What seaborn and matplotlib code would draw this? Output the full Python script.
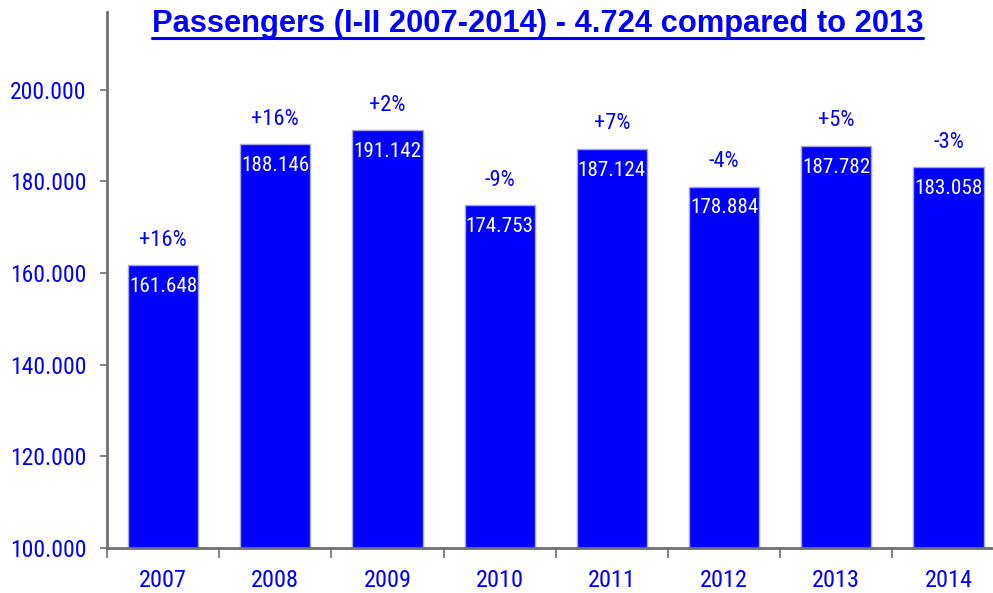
import matplotlib
matplotlib.use("Agg")
import matplotlib.pyplot as plt
from matplotlib import font_manager
from matplotlib.font_manager import FontProperties
from matplotlib.lines import Line2D
from matplotlib.ticker import FixedLocator, FuncFormatter
import seaborn as sns
import pandas as pd

# Passenger totals, Jan-Feb of each year
years = ["2007", "2008", "2009", "2010", "2011", "2012", "2013", "2014"]
passengers = [161648, 188146, 191142, 174753, 187124, 178884, 187782, 183058]
changes = ["+16%", "+16%", "+2%", "-9%", "+7%", "-4%", "+5%", "-3%"]
y_ticks = [100000, 120000, 140000, 160000, 180000, 200000]
title = "Passengers (I-II 2007-2014) - 4.724 compared to 2013"

sns.set_theme(style="white")


def find_narrow_font():
    """Pick a condensed sans-serif face file, best candidates first."""
    files = [f.fname for f in font_manager.fontManager.ttflist]
    prefs = ["LiberationSansNarrow-Regular", "RobotoCondensed-Regular",
             "Roboto_Condensed-Regular", "OpenSans_Condensed-Regular",
             "OpenSansCondensed", "NotoSans-Condensed.", "NotoSans_Condensed-Regular",
             "DejaVuSansCondensed."]
    for key in prefs:
        for fn in files:
            if key.lower() in fn.lower().replace(" ", ""):
                return fn
    for fn in files:
        low = fn.lower()
        if ("condensed" in low or "narrow" in low) and "bold" not in low \
                and "italic" not in low and "oblique" not in low and "mono" not in low:
            return fn
    return None


narrow_file = find_narrow_font()


def nfont(size):
    if narrow_file:
        return FontProperties(fname=narrow_file, size=size)
    return FontProperties(family="DejaVu Sans", stretch="condensed", size=size)


BLUE = "#0000ff"
GREY = "#707070"

df = pd.DataFrame({"year": years, "passengers": passengers})

fig = plt.figure(figsize=(9.93, 5.93), dpi=100)
W, H = 993, 593
ax = fig.add_axes([107 / W, (H - 547.7) / H, 897.6 / W, (547.7 - 12) / H])

sns.barplot(data=df, x="year", y="passengers", color=BLUE, saturation=1,
            width=0.627, edgecolor="#a8a8d8", linewidth=1.0, ax=ax)

ax.set_ylim(100000, 217000)
ax.set_xlim(-0.5, len(years) - 0.5)
ax.set_xlabel("")
ax.set_ylabel("")

ax.yaxis.set_major_locator(FixedLocator(y_ticks))
ax.yaxis.set_major_formatter(FuncFormatter(lambda v, p: f"{int(v):,}".replace(",", ".")))
ax.tick_params(axis="y", which="major", direction="out", length=5, width=1.2,
               color=GREY, labelcolor=BLUE, pad=10, left=True)
ax.tick_params(axis="x", which="major", length=0, labelcolor=BLUE, pad=15)
ax.xaxis.set_minor_locator(FixedLocator([i - 0.5 for i in range(len(years) + 1)]))
ax.tick_params(axis="x", which="minor", direction="out", length=7, width=1.2,
               color=GREY, bottom=True)
for lbl in ax.get_yticklabels():
    lbl.set_fontproperties(nfont(17))
for lbl in ax.get_xticklabels():
    lbl.set_fontproperties(nfont(17.5))

for side in ("top", "right"):
    ax.spines[side].set_visible(False)
for side in ("left", "bottom"):
    ax.spines[side].set_color(GREY)
    ax.spines[side].set_linewidth(2)
ax.grid(False)

for bar, val, chg in zip(ax.patches, passengers, changes):
    cx = bar.get_x() + bar.get_width() / 2
    ax.annotate(f"{val:,}".replace(",", "."), (cx, val), xytext=(0, -8.5),
                textcoords="offset points", ha="center", va="top",
                color="white", fontproperties=nfont(15.2))
    ax.annotate(chg, (cx, val), xytext=(0, 10.5), textcoords="offset points",
                ha="center", va="bottom", color=BLUE, fontproperties=nfont(16.2))

t = fig.text(537.5 / W, 1 - 24 / H, title, ha="center", va="center",
             fontsize=22.2, fontweight="bold", color=BLUE,
             family=["Liberation Sans", "DejaVu Sans"])

# underline beneath the title
fig.canvas.draw()
bb = t.get_window_extent()
fig.add_artist(Line2D([bb.x0 / W, bb.x1 / W], [1 - 38 / H, 1 - 38 / H],
                      transform=fig.transFigure, color=BLUE, linewidth=2.2))

fig.savefig("out.png", dpi=100)
